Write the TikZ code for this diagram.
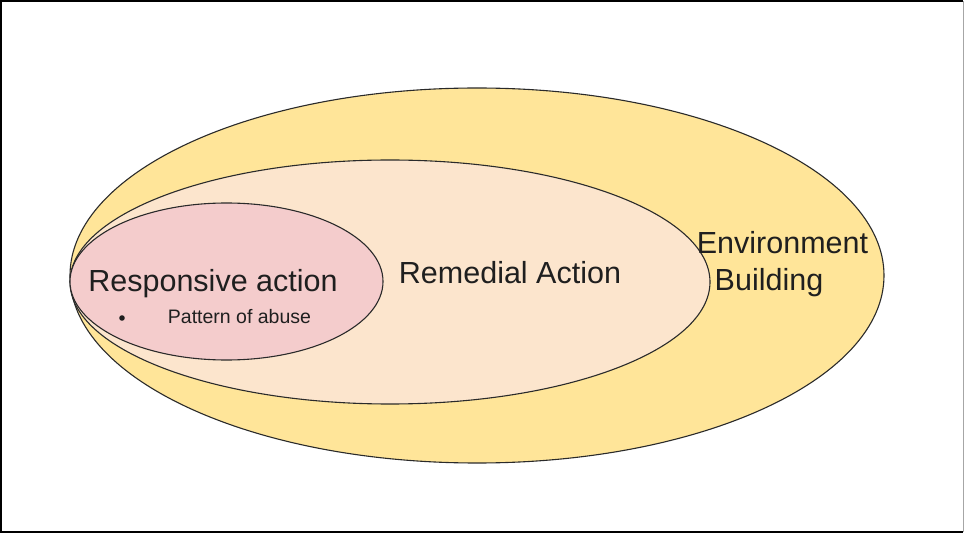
\documentclass[tikz,border=0pt]{standalone}
\usepackage{fontspec}
\setmainfont{Liberation Sans}
\usetikzlibrary{shapes.geometric}
\definecolor{envfill}{HTML}{FFE599}
\definecolor{remfill}{HTML}{FCE5CD}
\definecolor{resfill}{HTML}{F4CCCC}
\definecolor{edge}{HTML}{2A2A2A}
\definecolor{txt}{HTML}{1F1F1F}
\tikzset{
  ring/.style={ellipse, draw=edge, line width=1.1pt, inner sep=0pt, outer sep=0pt},
  bigtext/.style={font=\fontsize{30.5}{37}\selectfont, text=txt, inner sep=0pt},
  smalltext/.style={font=\fontsize{19.5}{23}\selectfont, text=txt, inner sep=0pt}
}
\begin{document}
\begin{tikzpicture}[x=1pt,y=-1pt]
\useasboundingbox (0,0) rectangle (964,534);
\fill[white] (0,0) rectangle (964,534);
% frame
\draw[line width=2.5pt] (962.5,1) -- (1.2,1) -- (1.2,532) -- (962.5,532);
\draw[line width=1pt, gray!70] (963,1) -- (963,532);
% ellipses
\node[ring, fill=envfill, minimum width=814pt, minimum height=375pt] (env) at (477,275.5) {};
\node[ring, fill=remfill, minimum width=640pt, minimum height=244pt] (rem) at (390,282) {};
\node[ring, fill=resfill, minimum width=313pt, minimum height=157pt] (res) at (226.5,281.5) {};
% labels
\node[bigtext, anchor=base] (lres) at (213,292) {Responsive action};
\node[bigtext, anchor=base] (lrem) at (510,284) {Remedial Action};
\node[bigtext, anchor=base, align=center] (lenv) at (782.5,290.5) {Environment\\Building\hspace*{27pt}};
\fill[txt] (122,318) circle (2.8pt) coordinate (bul);
\node[smalltext, anchor=base] (lpat) at (239.5,324) {Pattern of abuse};
\end{tikzpicture}
\end{document}
